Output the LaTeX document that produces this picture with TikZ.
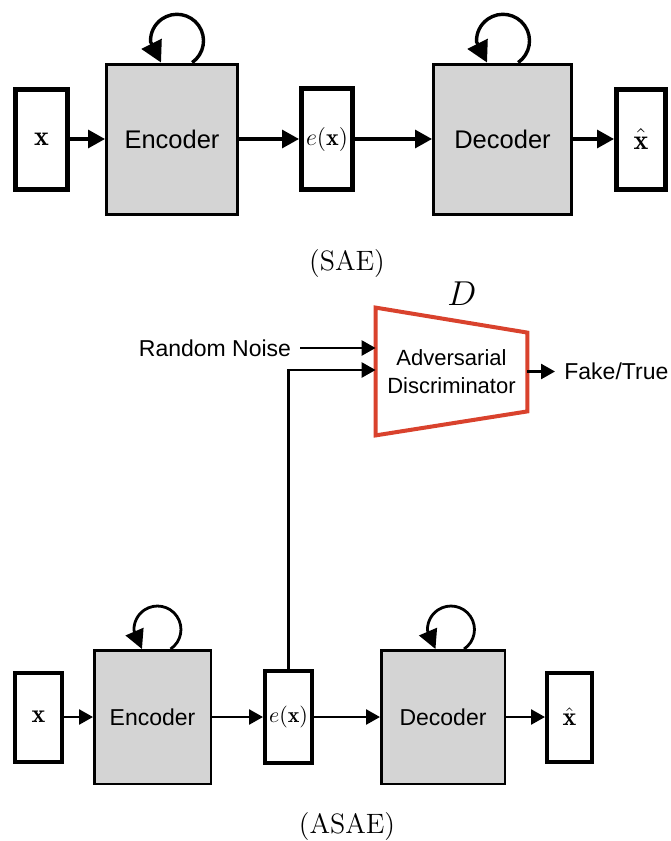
\documentclass[tikz,border=0pt]{standalone}
\usepackage{fontspec}
\newfontfamily\helv{Liberation Sans}
\usetikzlibrary{arrows.meta,calc}
\definecolor{boxgray}{RGB}{212,212,212}
\definecolor{discred}{RGB}{217,66,45}

\begin{document}
\begin{tikzpicture}[x=0.5pt,y=0.5pt,
    vecbox/.style={draw, line width=2.5pt, inner sep=0pt, font=\fontsize{14}{16}\selectfont},
    vecboxsm/.style={draw, line width=2pt, inner sep=0pt, font=\fontsize{13}{15}\selectfont},
    netbox/.style={draw, fill=boxgray, line width=1.5pt, inner sep=0pt, font=\helv\fontsize{12.75}{15}\selectfont},
    netboxsm/.style={draw, fill=boxgray, line width=1.25pt, inner sep=0pt, font=\helv\fontsize{11.5}{14}\selectfont},
    txtlabel/.style={inner sep=4.5pt, font=\helv\fontsize{11.5}{14}\selectfont},
    arr/.style={line width=1.6pt, -{Triangle[length=8.5pt,width=9pt]}},
    arrsm/.style={line width=1.3pt, -{Triangle[length=7pt,width=7.5pt]}},
    selfloop/.style={line width=1.7pt, -{Triangle[length=10.5pt,width=11pt]}},
    selfloopsm/.style={line width=1.4pt, -{Triangle[length=9.5pt,width=9.5pt]}}]
\useasboundingbox (0,0) rectangle (670,-841);

% (SAE)
\node[vecbox, minimum width=26pt, minimum height=50pt] (x1) at (41.5,-139) {$\mathbf{x}$};
\node[netbox, minimum width=65.5pt, minimum height=75pt] (enc1) at (172,-139) {Encoder};
\node[vecbox, minimum width=25.5pt, minimum height=50.5pt, font=\fontsize{12}{14}\selectfont] (ex1) at (327,-139) {$e(\mathbf{x})$};
\node[netbox, minimum width=69pt, minimum height=75pt] (dec1) at (502.5,-139) {Decoder};
\node[vecbox, minimum width=24.5pt, minimum height=50pt] (xh1) at (641,-139) {$\hat{\mathbf{x}}$};

\draw[arr] (x1) -- (enc1);
\draw[arr] (enc1) -- (ex1);
\draw[arr] (ex1) -- (dec1);
\draw[arr] (dec1) -- (xh1);

\draw[selfloop] ([xshift=10.1pt]enc1.north) arc[start angle=-55, end angle=182, radius=26.5] -- ++(10.5,-20.8);
\draw[selfloop] ([xshift=7.85pt]dec1.north) arc[start angle=-55, end angle=182, radius=26.5] -- ++(10.5,-20.8);

\node[font=\fontsize{14}{16}\selectfont] (sae) at (347,-264) {(SAE)};

% (ASAE)
\node[font=\fontsize{18.5}{22}\selectfont] (dname) at (462,-294) {$D$};
\node[inner sep=0pt, minimum width=75.5pt, minimum height=63.5pt, align=center,
      font=\helv\fontsize{11}{14}\selectfont] (disc) at (451.5,-371.5) {Adversarial\\Discriminator};
\draw[discred, line width=2pt] (disc.north west) -- ($(disc.north east)+(0,-25)$)
    -- ($(disc.south east)+(0,24)$) -- (disc.south west) -- cycle;
\coordinate (din1) at ($(disc.west)+(0,23.5)$);
\coordinate (din2) at ($(disc.west)+(0,1.5)$);

\node[txtlabel] (noise) at (215,-348) {Random Noise};
\node[txtlabel, anchor=west] (fake) at (555,-371.5) {Fake/True};

\draw[arrsm] (noise) -- (din1);
\draw[arrsm] (disc.east) -- (fake);

\node[vecboxsm, minimum width=23.5pt, minimum height=44.5pt] (x2) at (38.5,-717) {$\mathbf{x}$};
\node[netboxsm, minimum width=58.25pt, minimum height=66.75pt] (enc2) at (152.5,-717) {Encoder};
\node[vecboxsm, minimum width=23.5pt, minimum height=46pt, font=\fontsize{11}{13}\selectfont] (ex2) at (288.5,-717) {$e(\mathbf{x})$};
\node[netboxsm, minimum width=61.75pt, minimum height=66.75pt] (dec2) at (443,-717) {Decoder};
\node[vecboxsm, minimum width=22.5pt, minimum height=44.5pt] (xh2) at (569.5,-717) {$\hat{\mathbf{x}}$};

\draw[arrsm] (x2) -- (enc2);
\draw[arrsm] (enc2) -- (ex2);
\draw[arrsm] (ex2) -- (dec2);
\draw[arrsm] (dec2) -- (xh2);
\draw[arrsm] (ex2.north) |- (din2);

\draw[selfloopsm] ([xshift=9.05pt]enc2.north) arc[start angle=-56, end angle=182, radius=23.5] -- ++(8,-18.7);
\draw[selfloopsm] ([xshift=10.55pt]dec2.north) arc[start angle=-56, end angle=182, radius=23.5] -- ++(8,-18.7);

\node[font=\fontsize{14}{16}\selectfont] (asae) at (347,-827) {(ASAE)};

\end{tikzpicture}
\end{document}
